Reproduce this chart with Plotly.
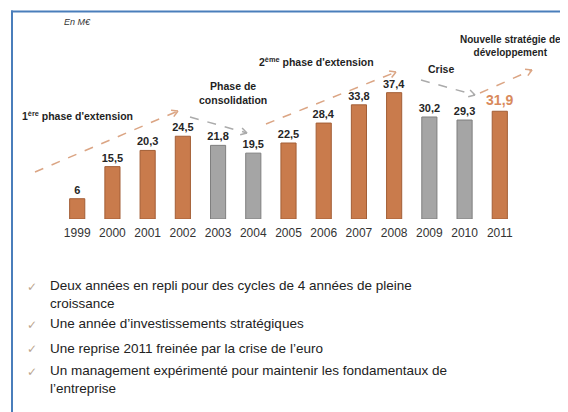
import math
import plotly.graph_objects as go

years = [1999, 2000, 2001, 2002, 2003, 2004, 2005, 2006, 2007, 2008, 2009, 2010, 2011]
ca = [6, 15.5, 20.3, 24.5, 21.8, 19.5, 22.5, 28.4, 33.8, 37.4, 30.2, 29.3, 31.9]
phase = ["up", "up", "up", "up", "down", "down", "up", "up", "up", "up", "down", "down", "up"]
unit = "En M€"
phase_titles = ["1<sup>ère</sup> phase d'extension", "Phase de<br>consolidation",
                "2<sup>ème</sup> phase d'extension", "Crise",
                "Nouvelle stratégie de<br>développement"]
bullets = [["Deux années en repli pour des cycles de 4 années de pleine", "croissance"],
           ["Une année d’investissements stratégiques"],
           ["Une reprise 2011 freinée par la crise de l’euro"],
           ["Un management expérimenté pour maintenir les fondamentaux de", "l’entreprise"]]

# the page body has an 8px margin: work in reference pixels and shift
OFF = 8
W, H = 568 - OFF, 412 - OFF
L, R, T, B = 42 - OFF, 33, 67 - OFF, 193
PW, PH = W - L - R, H - T - B

def px(x):
    return (x - OFF - L) / PW

def py(y):
    return (H - B - (y - OFF)) / PH

ORANGE = "#C97B4C"
ORANGE_LINE = "#A35E36"
GREY = "#A5A5A5"
GREY_LINE = "#7F7F7F"
colors = [ORANGE if p == "up" else GREY for p in phase]
lines = [ORANGE_LINE if p == "up" else GREY_LINE for p in phase]
labels = [f"{v:g}".replace(".", ",") for v in ca]
lab_colors = ["#262626"] * (len(ca) - 1) + ["#D98A5C"]
lab_sizes = [11] * (len(ca) - 1) + [14]

FONT = "Arial, Liberation Sans, sans-serif"

fig = go.Figure(go.Bar(
    x=years, y=ca, width=0.43,
    marker=dict(color=colors, line=dict(color=lines, width=1)),
    text=labels, textposition="outside", cliponaxis=False, constraintext="none",
    textfont=dict(family=FONT, color=lab_colors, size=lab_sizes, weight="bold"),
    hoverinfo="x+y",
))

shapes = []
annotations = []

# frame
shapes.append(dict(type="line", xref="paper", yref="paper", x0=px(11), x1=px(570), y0=py(11.5), y1=py(11.5),
                   line=dict(color="#4A7EBB", width=2)))
shapes.append(dict(type="line", xref="paper", yref="paper", x0=px(12), x1=px(12), y0=py(10.5), y1=py(414),
                   line=dict(color="#4A7EBB", width=2)))

# dashed trend arrows
ARROW_UP = "#DBA584"
ARROW_DOWN = "#ABABAB"
arrows = [((35, 172), (178, 111), ARROW_UP),
          ((190, 117), (247, 133), ARROW_DOWN),
          ((266, 124), (396, 72), ARROW_UP),
          ((421, 80), (475, 95), ARROW_DOWN),
          ((480, 93), (532, 70), ARROW_UP)]
for (x0, y0), (x1, y1), c in arrows:
    shapes.append(dict(type="line", xref="paper", yref="paper", x0=px(x0), y0=py(y0), x1=px(x1), y1=py(y1),
                       line=dict(color=c, width=1.5, dash="dash")))
    ang = math.atan2(y1 - y0, x1 - x0)
    for d in (0.52, -0.52):
        hx = x1 - 7 * math.cos(ang + d)
        hy = y1 - 7 * math.sin(ang + d)
        shapes.append(dict(type="line", xref="paper", yref="paper", x0=px(x1), y0=py(y1), x1=px(hx), y1=py(hy),
                           line=dict(color=c, width=1.5)))

def ann(text, x, y, size=10.5, bold=True, color="#1F1F1F", xanchor="center", align="center", italic=False,
        family=FONT):
    annotations.append(dict(text=text, xref="paper", yref="paper", x=px(x), y=py(y), showarrow=False,
                            xanchor=xanchor, yanchor="middle", align=align,
                            font=dict(family=family, size=size, color=color,
                                      weight="bold" if bold else "normal",
                                      style="italic" if italic else "normal")))

ann(unit, 62, 22, size=9, bold=False, italic=True, color="#333333", xanchor="left")
ann(phase_titles[0], 20, 115, xanchor="left")
ann(phase_titles[1], 233, 93)
ann(phase_titles[2], 257, 62, xanchor="left")
ann(phase_titles[3], 441, 69)
ann(phase_titles[4], 510, 46, size=10)

BULLET_SIZE = 13.5
bullet_y = [286, 323.5, 348, 371]
for lines_txt, y in zip(bullets, bullet_y):
    ann("✓", 25, y + 1, size=12, bold=False, color="#BCA68E", xanchor="left", family="DejaVu Sans")
    n = len(lines_txt)
    yc = y + (n - 1) * BULLET_SIZE * 1.3 / 2
    ann("<br>".join(lines_txt), 48, yc, size=BULLET_SIZE, bold=False, color="#222222",
        xanchor="left", align="left")

fig.update_layout(
    width=W, height=H, margin=dict(l=L, r=R, t=T, b=B),
    paper_bgcolor="white", plot_bgcolor="white",
    showlegend=False, shapes=shapes, annotations=annotations,
    xaxis=dict(range=[1998, 2012], tickmode="array", tickvals=years, ticktext=[str(y) for y in years],
               showgrid=False, zeroline=False, showline=False, ticks="", ticklabelstandoff=5,
               tickfont=dict(family=FONT, size=12, color="#333333"), fixedrange=True),
    yaxis=dict(range=[0, 45], visible=False, fixedrange=True),
)
fig.write_html("out.html")
